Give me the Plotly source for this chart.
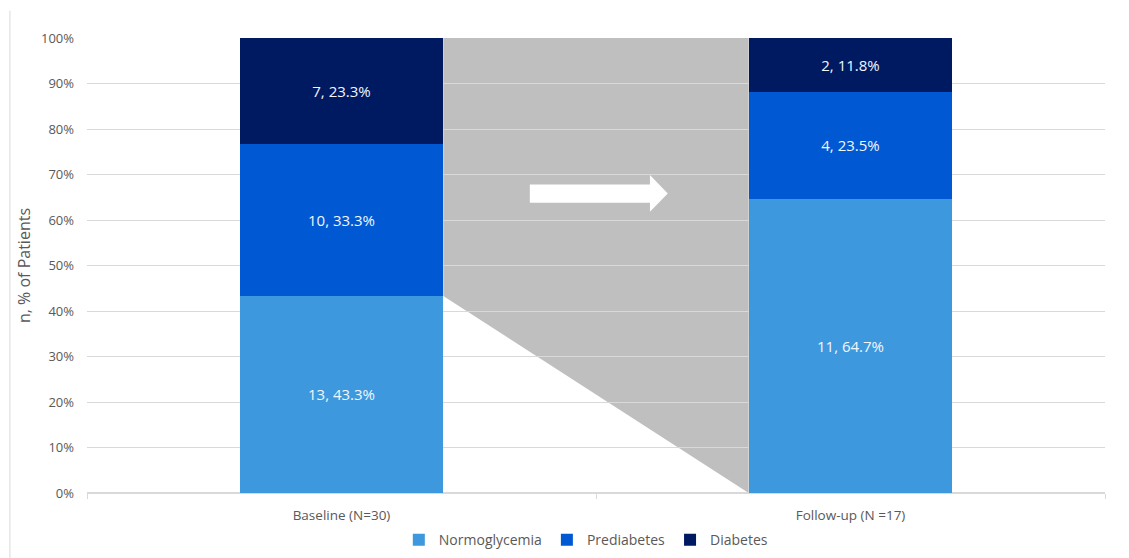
import plotly.graph_objects as go

categories = ["Baseline (N=30)", "Follow-up (N =17)"]
groups = ["Normoglycemia", "Prediabetes", "Diabetes"]
counts = {"Normoglycemia": [13, 11], "Prediabetes": [10, 4], "Diabetes": [7, 2]}
percents = {"Normoglycemia": [43.3, 64.7], "Prediabetes": [33.3, 23.5], "Diabetes": [23.3, 11.8]}
colors = {"Normoglycemia": "#3D98DE", "Prediabetes": "#0059D3", "Diabetes": "#001A62"}
y_ticks = [0, 10, 20, 30, 40, 50, 60, 70, 80, 90, 100]

xpos = list(range(len(categories)))
font = "Open Sans, Liberation Sans, sans-serif"

fig = go.Figure()
for g in groups:
    fig.add_trace(go.Bar(
        x=xpos, y=percents[g], name=g, width=0.4,
        marker=dict(color=colors[g], line=dict(width=0)),
        text=[f"{c}, {p}%" for c, p in zip(counts[g], percents[g])],
        textposition="inside", insidetextanchor="middle",
        textfont=dict(color="#F2F6FB", size=15, family=font),
        hoverinfo="skip",
    ))

# grey connector polygon from baseline normoglycemia top to follow-up
b_norm = percents["Normoglycemia"][0]
fig.add_shape(type="path", xref="x", yref="y", layer="below",
              path=f"M 0.2,100 L 0.8,100 L 0.8,0 L 0.2,{b_norm} Z",
              fillcolor="#BFBFBF", line=dict(width=0))
# white arrow
fig.add_shape(type="path", xref="x", yref="y",
              path="M 0.370,63.8 L 0.606,63.8 L 0.606,61.8 L 0.641,65.8 L 0.606,69.9 L 0.606,67.8 L 0.370,67.8 Z",
              fillcolor="white", line=dict(width=0))
# left frame line
fig.add_shape(type="line", xref="paper", yref="paper", x0=-0.0757, x1=-0.0757, y0=-0.15, y1=1.06,
              line=dict(color="#D9D9D9", width=1))

fig.update_layout(
    width=1129, height=558,
    margin=dict(l=87, r=24, t=38, b=65, autoexpand=False),
    barmode="stack", bargap=0.6,
    plot_bgcolor="white", paper_bgcolor="white",
    font=dict(family=font, color="#595959", size=13),
    showlegend=True,
    legend=dict(orientation="h", x=0.49, xanchor="center", xref="paper",
                yref="container", y=0.032, yanchor="middle",
                font=dict(size=14, color="#595959", family=font), traceorder="normal",
                itemwidth=30),
    xaxis=dict(range=[-0.5, 1.5], tickvals=xpos, ticktext=categories, ticks="",
               showgrid=False, zeroline=False, showline=False, ticklabelstandoff=12,
               tickfont=dict(size=13.5, color="#595959"),
               minor=dict(tick0=-0.5, dtick=1, ticks="outside", ticklen=5, tickcolor="#D9D9D9", showgrid=False)),
    yaxis=dict(range=[0, 100], tickvals=y_ticks, ticktext=[f"{v}%" for v in y_ticks],
               showgrid=True, gridcolor="#D9D9D9", zeroline=True, zerolinecolor="#D9D9D9",
               showline=False, ticks="", ticklen=0, ticklabelstandoff=12,
               title=dict(text="n, % of Patients", font=dict(size=16, color="#595959"), standoff=6),
               tickfont=dict(size=13, color="#595959")),
)

fig.write_html("out.html")
